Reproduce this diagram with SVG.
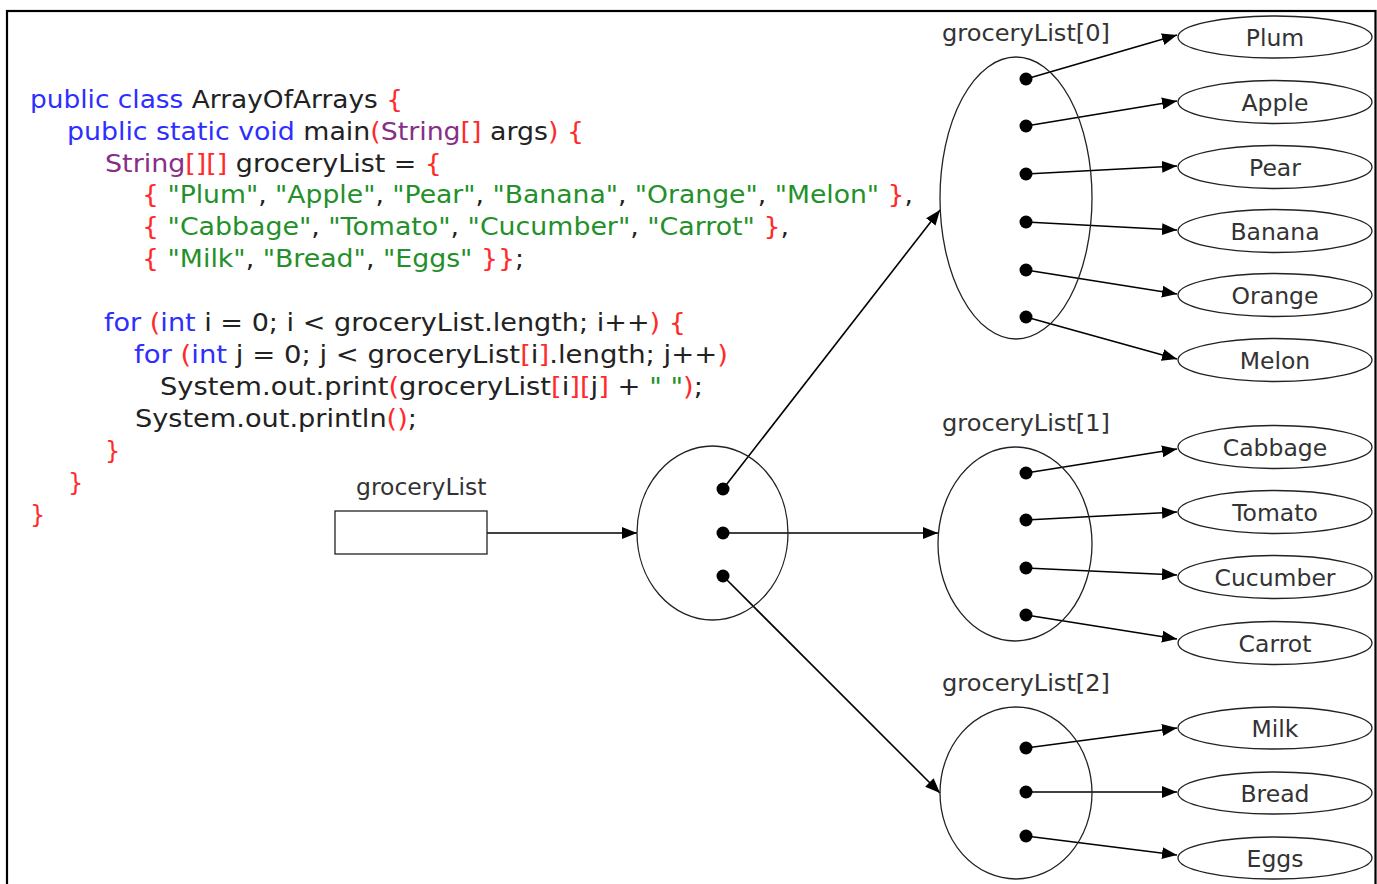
<svg xmlns="http://www.w3.org/2000/svg" width="1377" height="884" viewBox="0 0 1377 884">
  <defs>
    <style>
      .code { font-family: "DejaVu Sans", Verdana, sans-serif; font-size: 24px; fill: #222; }
      .kw { fill: #2e2eff; }
      .br { fill: #ff2b2b; }
      .ty { fill: #872e87; }
      .st { fill: #23902a; }
      .lbl { font-family: "DejaVu Sans", Verdana, sans-serif; font-size: 23.5px; fill: #333; }
      .item { font-family: "DejaVu Sans", Verdana, sans-serif; font-size: 23.5px; fill: #333; text-anchor: middle; }
      .shape { fill: none; stroke: #222; stroke-width: 1.3; }
      .dot { fill: #000; }
      .edge { stroke: #000; stroke-width: 1.6; fill: none; marker-end: url(#arrow); }
    </style>
    <marker id="arrow" markerUnits="userSpaceOnUse" markerWidth="16" markerHeight="12" refX="15" refY="6" orient="auto">
      <path d="M0,0 L15,6 L0,12 z" fill="#000"/>
    </marker>
  </defs>

  <rect width="1377" height="884" fill="#fff"/>
  <!-- frame -->
  <rect x="7" y="11" width="1368.5" height="900" fill="none" stroke="#000" stroke-width="2.2"/>

  <!-- Java source listing -->
  <g id="source">
    <text class="code" x="30" y="108" textLength="373" lengthAdjust="spacingAndGlyphs"><tspan class="kw">public class</tspan> ArrayOfArrays <tspan class="br">{</tspan></text>
    <text class="code" x="67" y="139.5" textLength="517" lengthAdjust="spacingAndGlyphs"><tspan class="kw">public static void</tspan> main<tspan class="br">(</tspan><tspan class="ty">String</tspan><tspan class="br">[]</tspan> args<tspan class="br">)</tspan> <tspan class="br">{</tspan></text>
    <text class="code" x="105" y="171.5" textLength="337" lengthAdjust="spacingAndGlyphs"><tspan class="ty">String</tspan><tspan class="br">[][]</tspan> groceryList = <tspan class="br">{</tspan></text>
    <text class="code" x="142" y="203" textLength="771" lengthAdjust="spacingAndGlyphs"><tspan class="br">{</tspan> <tspan class="st">"Plum"</tspan>, <tspan class="st">"Apple"</tspan>, <tspan class="st">"Pear"</tspan>, <tspan class="st">"Banana"</tspan>, <tspan class="st">"Orange"</tspan>, <tspan class="st">"Melon"</tspan> <tspan class="br">}</tspan>,</text>
    <text class="code" x="142" y="235" textLength="647" lengthAdjust="spacingAndGlyphs"><tspan class="br">{</tspan> <tspan class="st">"Cabbage"</tspan>, <tspan class="st">"Tomato"</tspan>, <tspan class="st">"Cucumber"</tspan>, <tspan class="st">"Carrot"</tspan> <tspan class="br">}</tspan>,</text>
    <text class="code" x="142" y="266.5" textLength="382" lengthAdjust="spacingAndGlyphs"><tspan class="br">{</tspan> <tspan class="st">"Milk"</tspan>, <tspan class="st">"Bread"</tspan>, <tspan class="st">"Eggs"</tspan> <tspan class="br">}}</tspan>;</text>
    <text class="code" x="104" y="331" textLength="582" lengthAdjust="spacingAndGlyphs"><tspan class="kw">for</tspan> <tspan class="br">(</tspan><tspan class="kw">int</tspan> i = 0; i &lt; groceryList.length; i++<tspan class="br">)</tspan> <tspan class="br">{</tspan></text>
    <text class="code" x="134" y="363" textLength="594" lengthAdjust="spacingAndGlyphs"><tspan class="kw">for</tspan> <tspan class="br">(</tspan><tspan class="kw">int</tspan> j = 0; j &lt; groceryList<tspan class="br">[</tspan>i<tspan class="br">]</tspan>.length; j++<tspan class="br">)</tspan></text>
    <text class="code" x="160" y="395" textLength="543" lengthAdjust="spacingAndGlyphs">System.out.print<tspan class="br">(</tspan>groceryList<tspan class="br">[</tspan>i<tspan class="br">][</tspan>j<tspan class="br">]</tspan> + <tspan class="st">" "</tspan><tspan class="br">)</tspan>;</text>
    <text class="code" x="135" y="427" textLength="282" lengthAdjust="spacingAndGlyphs">System.out.println<tspan class="br">()</tspan>;</text>
    <text class="code br" x="105" y="459">}</text>
    <text class="code br" x="68" y="491">}</text>
    <text class="code br" x="30" y="523">}</text>
  </g>

  <!-- connectors -->
  <g id="connectors">
    <line class="edge" x1="487" y1="533" x2="637" y2="533"/>
    <line class="edge" x1="723" y1="489" x2="940" y2="210"/>
    <line class="edge" x1="723" y1="533" x2="938" y2="533"/>
    <line class="edge" x1="723" y1="576" x2="940" y2="793"/>

    <line class="edge" x1="1026" y1="79" x2="1177" y2="35"/>
    <line class="edge" x1="1026" y1="126" x2="1177" y2="101"/>
    <line class="edge" x1="1026" y1="174" x2="1177" y2="166"/>
    <line class="edge" x1="1026" y1="222" x2="1177" y2="230"/>
    <line class="edge" x1="1026" y1="270" x2="1177" y2="294"/>
    <line class="edge" x1="1026" y1="317" x2="1177" y2="359"/>

    <line class="edge" x1="1026" y1="473" x2="1177" y2="449"/>
    <line class="edge" x1="1026" y1="520" x2="1177" y2="512"/>
    <line class="edge" x1="1026" y1="568" x2="1177" y2="575"/>
    <line class="edge" x1="1026" y1="615" x2="1177" y2="639"/>

    <line class="edge" x1="1026" y1="748" x2="1177" y2="728"/>
    <line class="edge" x1="1026" y1="792" x2="1177" y2="792"/>
    <line class="edge" x1="1026" y1="836" x2="1177" y2="855"/>
  </g>

  <!-- reference variable -->
  <g id="groceryList">
    <text class="lbl" x="356" y="495">groceryList</text>
    <rect class="shape" x="335" y="511" width="152" height="43" stroke-width="1.6"/>
  </g>

  <!-- outer array -->
  <g id="outer-array">
    <ellipse class="shape" cx="712.5" cy="533" rx="75.5" ry="87"/>
    <circle class="dot" cx="723" cy="489" r="6.5"/>
    <circle class="dot" cx="723" cy="533" r="6.5"/>
    <circle class="dot" cx="723" cy="576" r="6.5"/>
  </g>

  <!-- row arrays -->
  <g id="row0">
    <text class="lbl" x="942" y="41" textLength="168" lengthAdjust="spacingAndGlyphs">groceryList[0]</text>
    <ellipse class="shape" cx="1016" cy="198" rx="76" ry="141"/>
    <circle class="dot" cx="1026" cy="79" r="6.5"/>
    <circle class="dot" cx="1026" cy="126" r="6.5"/>
    <circle class="dot" cx="1026" cy="174" r="6.5"/>
    <circle class="dot" cx="1026" cy="222" r="6.5"/>
    <circle class="dot" cx="1026" cy="270" r="6.5"/>
    <circle class="dot" cx="1026" cy="317" r="6.5"/>
  </g>
  <g id="row1">
    <text class="lbl" x="942" y="431" textLength="168" lengthAdjust="spacingAndGlyphs">groceryList[1]</text>
    <ellipse class="shape" cx="1015" cy="544" rx="77" ry="97"/>
    <circle class="dot" cx="1026" cy="473" r="6.5"/>
    <circle class="dot" cx="1026" cy="520" r="6.5"/>
    <circle class="dot" cx="1026" cy="568" r="6.5"/>
    <circle class="dot" cx="1026" cy="615" r="6.5"/>
  </g>
  <g id="row2">
    <text class="lbl" x="942" y="691" textLength="168" lengthAdjust="spacingAndGlyphs">groceryList[2]</text>
    <ellipse class="shape" cx="1016" cy="793" rx="76" ry="86"/>
    <circle class="dot" cx="1026" cy="748" r="6.5"/>
    <circle class="dot" cx="1026" cy="792" r="6.5"/>
    <circle class="dot" cx="1026" cy="836" r="6.5"/>
  </g>

  <!-- string objects -->
  <g id="plum"><ellipse class="shape" cx="1275" cy="37" rx="97" ry="21"/><text class="item" x="1275" y="45.5">Plum</text></g>
  <g id="apple"><ellipse class="shape" cx="1275" cy="102" rx="97" ry="21.5"/><text class="item" x="1275" y="110.5">Apple</text></g>
  <g id="pear"><ellipse class="shape" cx="1275" cy="167" rx="97" ry="21.5"/><text class="item" x="1275" y="175.5">Pear</text></g>
  <g id="banana"><ellipse class="shape" cx="1275" cy="231" rx="97" ry="21.5"/><text class="item" x="1275" y="239.5">Banana</text></g>
  <g id="orange"><ellipse class="shape" cx="1275" cy="295" rx="97" ry="21.5"/><text class="item" x="1275" y="303.5">Orange</text></g>
  <g id="melon"><ellipse class="shape" cx="1275" cy="360" rx="97" ry="21.5"/><text class="item" x="1275" y="368.5">Melon</text></g>

  <g id="cabbage"><ellipse class="shape" cx="1275" cy="447" rx="97" ry="21.5"/><text class="item" x="1275" y="455.5">Cabbage</text></g>
  <g id="tomato"><ellipse class="shape" cx="1275" cy="512" rx="97" ry="21.5"/><text class="item" x="1275" y="520.5">Tomato</text></g>
  <g id="cucumber"><ellipse class="shape" cx="1275" cy="577" rx="97" ry="21.5"/><text class="item" x="1275" y="585.5">Cucumber</text></g>
  <g id="carrot"><ellipse class="shape" cx="1275" cy="643" rx="97" ry="21.5"/><text class="item" x="1275" y="651.5">Carrot</text></g>

  <g id="milk"><ellipse class="shape" cx="1275" cy="728" rx="97" ry="21"/><text class="item" x="1275" y="736.5">Milk</text></g>
  <g id="bread"><ellipse class="shape" cx="1275" cy="793" rx="97" ry="21"/><text class="item" x="1275" y="801.5">Bread</text></g>
  <g id="eggs"><ellipse class="shape" cx="1275" cy="858" rx="97" ry="21"/><text class="item" x="1275" y="866.5">Eggs</text></g>
</svg>
